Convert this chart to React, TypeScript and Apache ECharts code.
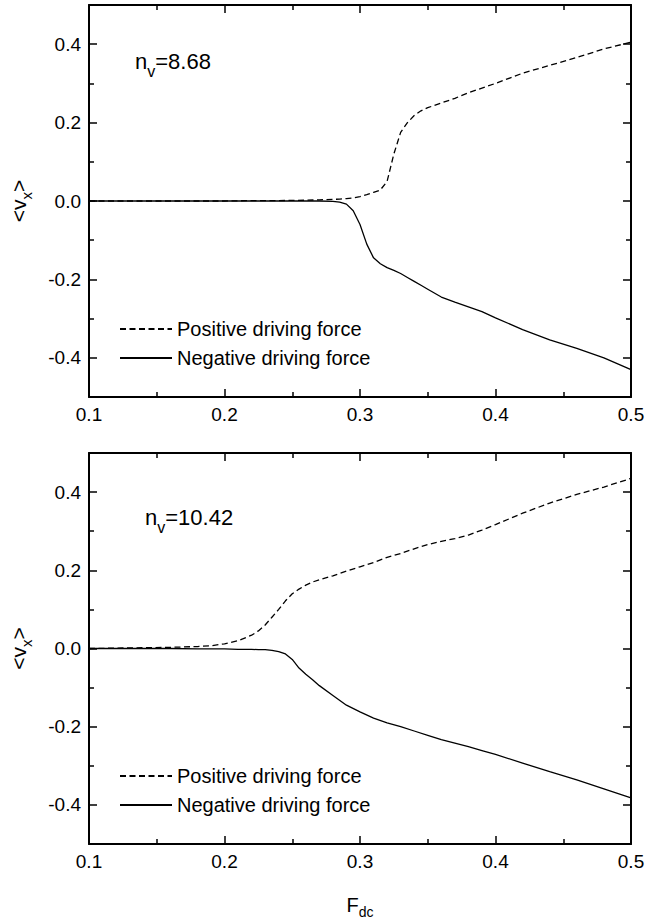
import React, { useEffect, useRef } from "react";
import * as echarts from "echarts";

// ---------- data ----------
const topF = [0.10, 0.12, 0.14, 0.16, 0.18, 0.20, 0.22, 0.24, 0.26, 0.27, 0.28, 0.285, 0.29, 0.295, 0.30, 0.305, 0.31, 0.315, 0.32, 0.325, 0.33, 0.335, 0.34, 0.345, 0.35, 0.36, 0.37, 0.38, 0.39, 0.40, 0.42, 0.44, 0.46, 0.48, 0.50];
const topPositive = [0, 0, 0, 0, 0, 0, 0.001, 0.001, 0.002, 0.003, 0.004, 0.005, 0.006, 0.008, 0.011, 0.016, 0.022, 0.028, 0.05, 0.12, 0.175, 0.2, 0.218, 0.23, 0.238, 0.25, 0.262, 0.276, 0.288, 0.3, 0.326, 0.346, 0.366, 0.388, 0.405];
const topNegative = [0, 0, 0, 0, 0, 0, 0, 0, 0, 0, -0.001, -0.003, -0.008, -0.025, -0.06, -0.11, -0.145, -0.16, -0.17, -0.177, -0.185, -0.195, -0.205, -0.215, -0.225, -0.245, -0.258, -0.27, -0.282, -0.298, -0.328, -0.354, -0.376, -0.4, -0.43];

const bottomF = [0.10, 0.12, 0.14, 0.16, 0.18, 0.19, 0.20, 0.21, 0.22, 0.225, 0.23, 0.235, 0.24, 0.245, 0.25, 0.255, 0.26, 0.265, 0.27, 0.28, 0.29, 0.30, 0.31, 0.32, 0.33, 0.34, 0.35, 0.36, 0.37, 0.38, 0.39, 0.40, 0.42, 0.44, 0.46, 0.48, 0.50];
const bottomPositive = [0, 0.001, 0.002, 0.003, 0.005, 0.007, 0.012, 0.02, 0.034, 0.045, 0.06, 0.08, 0.1, 0.122, 0.14, 0.152, 0.162, 0.17, 0.176, 0.186, 0.198, 0.209, 0.22, 0.233, 0.243, 0.255, 0.266, 0.274, 0.281, 0.29, 0.303, 0.317, 0.346, 0.372, 0.394, 0.413, 0.435];
const bottomNegative = [0, 0, 0, 0, -0.001, -0.001, -0.001, -0.002, -0.002, -0.003, -0.003, -0.005, -0.008, -0.014, -0.028, -0.05, -0.066, -0.08, -0.095, -0.12, -0.145, -0.162, -0.178, -0.19, -0.2, -0.211, -0.222, -0.233, -0.242, -0.251, -0.261, -0.271, -0.293, -0.315, -0.336, -0.359, -0.382];

const xMajorTicks = [0.1, 0.2, 0.3, 0.4, 0.5];
const xMinorTicks = [0.15, 0.25, 0.35, 0.45];
const yMajorTicks = [-0.4, -0.2, 0, 0.2, 0.4];
const yMinorTicks = [-0.3, -0.1, 0.1, 0.3];

const seriesNames = ["Positive driving force", "Negative driving force"];
const panelLabels = ["8.68", "10.42"];

// ---------- styling ----------
const FF = "'Liberation Sans', Arial, Helvetica, sans-serif";
const BLACK = "#000";

const mainTok = (size: number, lh: number) => ({
  fontSize: size,
  lineHeight: lh,
  fontFamily: FF,
  color: BLACK,
  verticalAlign: "middle",
});
// subscript: padding-top shifts the glyphs down by pad/2
const subTok = (size: number, pad: number) => ({
  fontSize: size,
  lineHeight: size,
  fontFamily: FF,
  color: BLACK,
  verticalAlign: "middle",
  padding: [pad, 0, 0, 0],
});

const GRID_LEFT = 89;
const GRID_RIGHT = 16;
const grids = [
  { left: GRID_LEFT, right: GRID_RIGHT, top: 5, height: 392, outerBoundsMode: "none", containLabel: false },
  { left: GRID_LEFT, right: GRID_RIGHT, top: 453, height: 391, outerBoundsMode: "none", containLabel: false },
];

function buildAxes(g: number) {
  const line = { show: true, onZero: false, lineStyle: { color: BLACK, width: 2 } };
  const tickStyle = { color: BLACK, width: 1.5 };
  const labelStyle = { fontSize: 19, color: BLACK, fontFamily: FF, margin: 8 };
  const fmt = (v: number) => v.toFixed(1);
  const xCommon = { type: "value", gridIndex: g, min: 0.1, max: 0.5, splitLine: { show: false } };
  const yCommon = { type: "value", gridIndex: g, min: -0.5, max: 0.5, splitLine: { show: false } };

  const xAxes: any[] = [
    {
      ...xCommon,
      position: "bottom",
      axisLine: line,
      axisTick: { show: true, inside: true, length: 8, customValues: xMajorTicks, lineStyle: tickStyle },
      axisLabel: { show: true, customValues: xMajorTicks, formatter: fmt, ...labelStyle },
      name: g === 1 ? "{a|F}{s|dc}" : "",
      nameLocation: "middle",
      nameGap: 50,
      nameTextStyle: { rich: { a: mainTok(20, 22), s: subTok(14, 14) } },
    },
    {
      ...xCommon,
      position: "bottom",
      axisLine: { show: false, onZero: false },
      axisTick: { show: true, inside: true, length: 5, customValues: xMinorTicks, lineStyle: tickStyle },
      axisLabel: { show: false },
    },
    {
      ...xCommon,
      position: "top",
      axisLine: line,
      axisTick: { show: true, inside: true, length: 8, customValues: xMajorTicks, lineStyle: tickStyle },
      axisLabel: { show: false },
    },
    {
      ...xCommon,
      position: "top",
      axisLine: { show: false, onZero: false },
      axisTick: { show: true, inside: true, length: 5, customValues: xMinorTicks, lineStyle: tickStyle },
      axisLabel: { show: false },
    },
  ];
  const yAxes: any[] = [
    {
      ...yCommon,
      position: "left",
      axisLine: line,
      axisTick: { show: true, inside: true, length: 8, customValues: yMajorTicks, lineStyle: tickStyle },
      axisLabel: { show: true, customValues: yMajorTicks, formatter: fmt, ...labelStyle },
      name: "{a|<v}{s|x}{a|>}",
      nameLocation: "middle",
      nameRotate: 90,
      nameGap: 60,
      nameTextStyle: { rich: { a: mainTok(21, 22), s: subTok(15, 16) } },
    },
    {
      ...yCommon,
      position: "left",
      axisLine: { show: false, onZero: false },
      axisTick: { show: true, inside: true, length: 5, customValues: yMinorTicks, lineStyle: tickStyle },
      axisLabel: { show: false },
    },
    {
      ...yCommon,
      position: "right",
      axisLine: line,
      axisTick: { show: true, inside: true, length: 8, customValues: yMajorTicks, lineStyle: tickStyle },
      axisLabel: { show: false },
    },
    {
      ...yCommon,
      position: "right",
      axisLine: { show: false, onZero: false },
      axisTick: { show: true, inside: true, length: 5, customValues: yMinorTicks, lineStyle: tickStyle },
      axisLabel: { show: false },
    },
  ];
  return { xAxes, yAxes };
}

const zip = (xs: number[], ys: number[]) => xs.map((x, i) => [x, ys[i]]);

function buildOption() {
  const a0 = buildAxes(0);
  const a1 = buildAxes(1);
  const dashed = { color: BLACK, width: 1.3, type: [6, 3.5] as any };
  const solid = { color: BLACK, width: 1.3, type: "solid" };
  const panels = [
    { pos: zip(topF, topPositive), neg: zip(topF, topNegative), xi: 0, yi: 0 },
    { pos: zip(bottomF, bottomPositive), neg: zip(bottomF, bottomNegative), xi: 4, yi: 4 },
  ];
  const series: any[] = [];
  panels.forEach((p) => {
    series.push({
      type: "line",
      name: seriesNames[0],
      xAxisIndex: p.xi,
      yAxisIndex: p.yi,
      data: p.pos,
      symbol: "none",
      lineStyle: dashed,
      itemStyle: { color: BLACK, opacity: 0 },
    });
    series.push({
      type: "line",
      name: seriesNames[1],
      xAxisIndex: p.xi,
      yAxisIndex: p.yi,
      data: p.neg,
      symbol: "none",
      lineStyle: solid,
      itemStyle: { color: BLACK, opacity: 0 },
    });
  });

  const legendBase = {
    orient: "vertical",
    left: 119,
    padding: 0,
    itemWidth: 52,
    itemHeight: 14,
    itemGap: 8,
    selectedMode: false,
    data: seriesNames,
    itemStyle: { opacity: 0, borderWidth: 0 },
    textStyle: { fontSize: 20, lineHeight: 21, color: BLACK, fontFamily: FF },
  };

  const annot = (label: string, left: number, top: number) => ({
    type: "text",
    left,
    top,
    style: {
      text: `{a|n}{s|v}{a|=${label}}`,
      rich: { a: mainTok(22, 22), s: subTok(16, 20) },
    },
  });

  return {
    animation: false,
    backgroundColor: "#fff",
    grid: grids,
    xAxis: [...a0.xAxes, ...a1.xAxes],
    yAxis: [...a0.yAxes, ...a1.yAxes],
    legend: [
      { ...legendBase, top: 318.5 },
      { ...legendBase, top: 765.5 },
    ],
    graphic: [annot(panelLabels[0], 135, 43.5), annot(panelLabels[1], 145, 499.5)],
    series,
  };
}

export default function App() {
  const ref = useRef<HTMLDivElement>(null);
  useEffect(() => {
    if (!ref.current) return;
    const chart = echarts.init(ref.current, undefined, { renderer: "svg" });
    chart.setOption(buildOption() as any);
    return () => chart.dispose();
  }, []);
  return (
    <div
      ref={ref}
      style={{ position: "absolute", left: 0, top: 0, width: 647, height: 924, background: "#fff" }}
    />
  );
}
